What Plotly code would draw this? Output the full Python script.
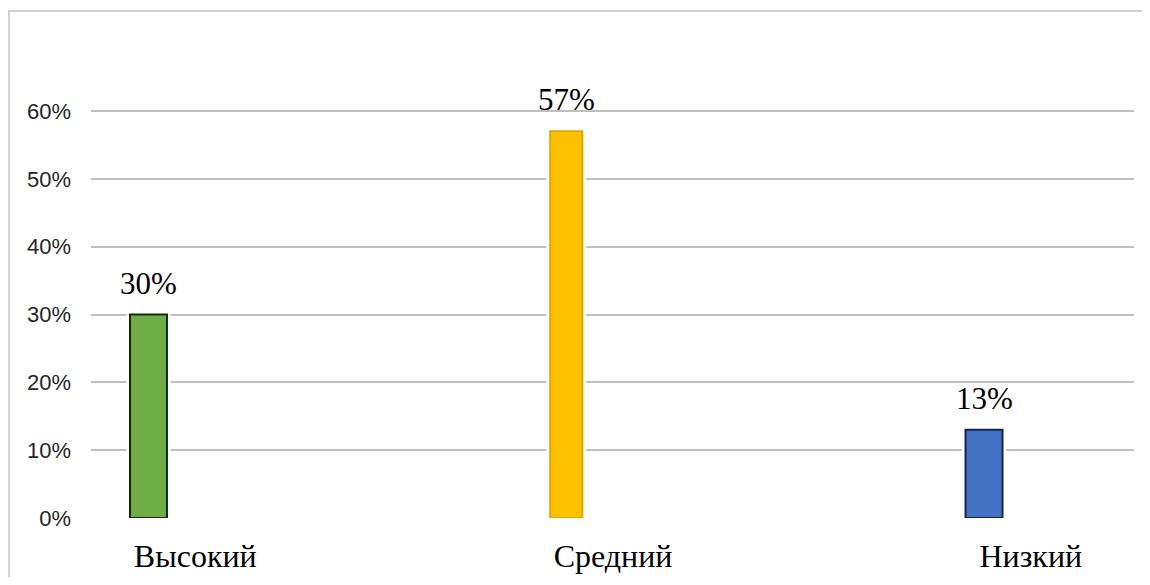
import plotly.graph_objects as go

categories = ["Высокий", "Средний", "Низкий"]
values = [0.30, 0.57, 0.13]
labels = ["30%", "57%", "13%"]
colors = ["#70AD47", "#FFC000", "#4472C4"]
outlines = ["#132B08", "#E0A800", "#14254A"]
ytick_vals = [0, 0.1, 0.2, 0.3, 0.4, 0.5, 0.6]
ytick_text = ["0%", "10%", "20%", "30%", "40%", "50%", "60%"]

xpos = list(range(len(categories)))
bar_w = [0.0885, 0.077, 0.0885]
label_offset = 0.112

fig = go.Figure()
# white halo behind bars to break gridlines
fig.add_trace(go.Bar(x=xpos, y=values, width=[w + 0.018 for w in bar_w],
                     marker=dict(color="white", line=dict(width=0)),
                     hoverinfo="skip", showlegend=False))
fig.add_trace(go.Bar(x=xpos, y=values, width=bar_w,
                     marker=dict(color=colors, line=dict(color=outlines, width=2)),
                     showlegend=False))

for x, v, t in zip(xpos, values, labels):
    fig.add_annotation(x=x, y=v, text=t, showarrow=False, yanchor="bottom",
                       yshift=12, font=dict(family="Liberation Serif", size=31, color="black"))

fig.update_layout(
    width=1134, height=569,
    margin=dict(l=83, r=8, t=102, b=59, autoexpand=False),
    barmode="overlay",
    plot_bgcolor="white", paper_bgcolor="white",
    xaxis=dict(range=[-0.1376, 2.359], tickvals=[x + label_offset for x in xpos],
               ticktext=categories, showgrid=False, zeroline=False, showline=False,
               ticks="", ticklabelstandoff=16, automargin=False,
               tickfont=dict(family="Liberation Serif", size=32, color="black")),
    yaxis=dict(range=[0, 0.6015], tickvals=ytick_vals, ticktext=ytick_text,
               showgrid=True, gridcolor="#BFBFBF", gridwidth=2, zeroline=False,
               showline=False, ticks="", ticklabelstandoff=19, automargin=False,
               tickfont=dict(family="Liberation Sans", size=22, color="#262626")),
    shapes=[dict(type="rect", xref="paper", yref="paper",
                 x0=-0.0786, x1=1.3, y0=-0.4, y1=1.2426,
                 line=dict(color="#D0D0D0", width=2), fillcolor="rgba(0,0,0,0)",
                 layer="below")],
)

fig.write_html("out.html")
